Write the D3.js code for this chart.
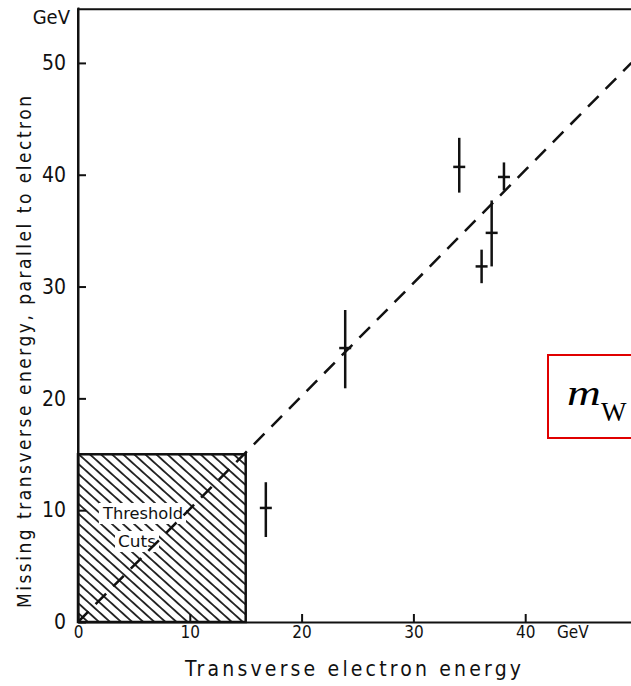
<!DOCTYPE html>
<html>
<head>
<meta charset="utf-8">
<script src="https://cdn.jsdelivr.net/npm/d3@7"></script>
<style>
  body { margin: 0; background: #fff; }
  svg { display: block; }
  .tick text { font-family: "DejaVu Sans Condensed", "DejaVu Sans", sans-serif; fill: #111; }
  .lbl { font-family: "DejaVu Sans Condensed", "DejaVu Sans", sans-serif; fill: #111; }
</style>
</head>
<body>
<script>
const w = 631;
const h = 686;

// measured events: transverse electron energy vs missing transverse energy (GeV)
const electronEt = [16.8, 23.9, 34.1, 36.1, 37.0, 38.1];
const missingEt = [10.2, 24.5, 40.7, 31.8, 34.8, 39.8];
const missingLo = [7.6, 20.9, 38.4, 30.3, 31.8, 38.6];
const missingHi = [12.5, 27.9, 43.3, 33.3, 37.7, 41.1];

// dashed kinematic line and threshold box
const lineX = [0, 49.5];
const lineY = [0, 50];
const cutE = 15;
const cutMiss = 15;

const xTicks = [0, 10, 20, 30, 40];
const yTicks = [0, 10, 20, 30, 40, 50];

const x = d3.scaleLinear().domain([0, 50]).range([78, 637]);
const y = d3.scaleLinear().domain([0, 55]).range([622, 7]);

const svg = d3
  .select("body")
  .append("svg")
  .attr("width", w)
  .attr("height", h);

// hatch pattern for the threshold region
const defs = svg.append("defs");
defs
  .append("pattern")
  .attr("id", "hatch")
  .attr("patternUnits", "userSpaceOnUse")
  .attr("width", 20)
  .attr("height", 7.4)
  .attr("patternTransform", "rotate(42)")
  .append("line")
  .attr("x1", -1)
  .attr("x2", 21)
  .attr("y1", 3.7)
  .attr("y2", 3.7)
  .attr("stroke", "#111")
  .attr("stroke-width", 1.7);

svg
  .append("rect")
  .attr("x", x(0))
  .attr("y", y(cutMiss))
  .attr("width", x(cutE) - x(0))
  .attr("height", y(0) - y(cutMiss))
  .attr("fill", "url(#hatch)")
  .attr("stroke", "#111")
  .attr("stroke-width", 2.5);

// labels inside box, with white backing
const boxText = svg.append("g");
[["Threshold", 143, 519, 80], ["Cuts", 137, 547, 38]].forEach(([t, cx, by, len]) => {
  const tx = boxText
    .append("text")
    .attr("class", "lbl")
    .attr("x", cx)
    .attr("y", by)
    .attr("text-anchor", "middle")
    .attr("font-size", 16)
    .attr("textLength", len)
    .attr("lengthAdjust", "spacingAndGlyphs")
    .text(t);
  const bb = tx.node().getBBox();
  boxText
    .insert("rect", "text")
    .attr("x", bb.x - 3)
    .attr("y", bb.y - 1)
    .attr("width", bb.width + 6)
    .attr("height", bb.height + 2)
    .attr("fill", "#fff");
});

// frame lines
svg
  .append("path")
  .attr("d", `M${x(0)},${y(0)} L${x(0)},${y(54.8)} L${w},${y(54.8)}`)
  .attr("fill", "none")
  .attr("stroke", "#111")
  .attr("stroke-width", 2);

// axes (ticks point inward)
svg
  .append("g")
  .attr("transform", `translate(0,${y(0)})`)
  .call(d3.axisBottom(x).tickValues(xTicks).tickSizeInner(-8).tickSizeOuter(0).tickPadding(4))
  .call((g) => g.select(".domain").attr("stroke", "#111").attr("stroke-width", 2))
  .call((g) => g.selectAll(".tick line").attr("stroke", "#111").attr("stroke-width", 2))
  .call((g) => g.selectAll(".tick text").attr("font-size", 17));

svg
  .append("g")
  .attr("transform", `translate(${x(0)},0)`)
  .call(d3.axisLeft(y).tickValues(yTicks).tickSizeInner(-8).tickSizeOuter(0).tickPadding(12))
  .call((g) => g.select(".domain").attr("stroke", "#111").attr("stroke-width", 2))
  .call((g) => g.selectAll(".tick line").attr("stroke", "#111").attr("stroke-width", 2))
  .call((g) => g.selectAll(".tick text").attr("font-size", 21));

// units
svg
  .append("text")
  .attr("class", "lbl")
  .attr("x", 70)
  .attr("y", 24)
  .attr("text-anchor", "end")
  .attr("font-size", 20)
  .text("GeV");
svg
  .append("text")
  .attr("class", "lbl")
  .attr("x", 557)
  .attr("y", 638)
  .attr("font-size", 17)
  .text("GeV");

// axis titles
svg
  .append("text")
  .attr("class", "lbl")
  .attr("x", 185)
  .attr("y", 676)
  .attr("font-size", 21)
  .attr("textLength", 336)
  .attr("lengthAdjust", "spacing")
  .text("Transverse electron energy");

svg
  .append("text")
  .attr("class", "lbl")
  .attr("transform", "translate(31,608) rotate(-90)")
  .attr("font-size", 19)
  .attr("textLength", 512)
  .attr("lengthAdjust", "spacing")
  .text("Missing transverse energy, parallel to electron");

// dashed line
svg
  .append("line")
  .attr("x1", x(lineX[0]))
  .attr("y1", y(lineY[0]))
  .attr("x2", x(lineX[1]))
  .attr("y2", y(lineY[1]))
  .attr("stroke", "#111")
  .attr("stroke-width", 2.5)
  .attr("stroke-dasharray", "15,10");

// data points with error bars
const pts = svg
  .selectAll("g.pt")
  .data(electronEt.map((e, i) => ({ e, m: missingEt[i], lo: missingLo[i], hi: missingHi[i] })))
  .enter()
  .append("g")
  .attr("class", "pt");

pts
  .append("line")
  .attr("x1", (d) => x(d.e))
  .attr("x2", (d) => x(d.e))
  .attr("y1", (d) => y(d.lo))
  .attr("y2", (d) => y(d.hi))
  .attr("stroke", "#111")
  .attr("stroke-width", 2.5);

pts
  .append("line")
  .attr("x1", (d) => x(d.e) - 6)
  .attr("x2", (d) => x(d.e) + 6)
  .attr("y1", (d) => y(d.m))
  .attr("y2", (d) => y(d.m))
  .attr("stroke", "#111")
  .attr("stroke-width", 2.5);

// m_W annotation box
svg
  .append("rect")
  .attr("x", 548)
  .attr("y", 355)
  .attr("width", 100)
  .attr("height", 83)
  .attr("fill", "none")
  .attr("stroke", "#e00000")
  .attr("stroke-width", 2);

svg
  .append("text")
  .attr("transform", "translate(567,405) scale(1.3,1)")
  .attr("font-family", "Liberation Serif, serif")
  .attr("font-style", "italic")
  .attr("font-size", 36)
  .attr("fill", "#000")
  .text("m");

svg
  .append("text")
  .attr("x", 601)
  .attr("y", 421)
  .attr("font-family", "Liberation Serif, serif")
  .attr("font-size", 27)
  .attr("fill", "#000")
  .text("W");
</script>
</body>
</html>
